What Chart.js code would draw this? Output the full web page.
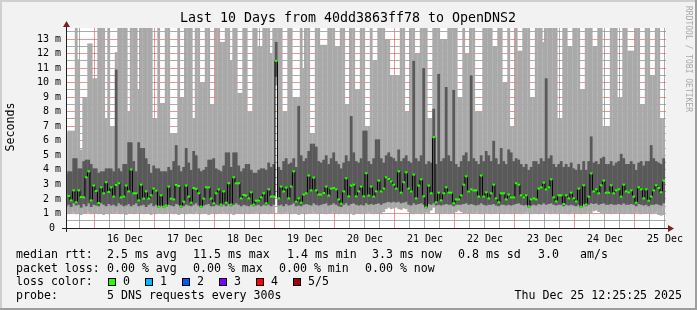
<!DOCTYPE html>
<html><head><meta charset="utf-8">
<script src="https://cdn.jsdelivr.net/npm/chart.js@4.4.1/dist/chart.umd.min.js"></script>
<style>html,body{margin:0;padding:0;background:#f2f2f2;}canvas{display:block;}</style>
</head><body>
<canvas id="c" width="697" height="310"></canvas>
<script>
// hourly steps, hour 12 of Dec 15 onwards (hours since Dec 15 00:00)
const firstHour = 12;
const viewStart = 12.42, viewEnd = 252.42;
const medianRtt = [2.25,2.2,1.90,2.59,1.77,2.59,2.13,2.11,3.49,3.90,
1.90,2.92,2.55,1.72,2.80,2.39,3.15,2.48,2.80,2.16,
2.96,3.08,2.11,2.16,2.92,2.52,4.02,2.39,2.39,1.90,
2.98,2.02,2.52,2.02,2.25,2.71,2.57,1.47,2.25,1.47,
1.54,2.85,2.02,1.97,2.96,2.89,1.49,1.81,2.92,2.16,
1.74,2.75,2.69,2.39,1.47,2.02,2.80,2.80,2.02,1.70,
2.39,2.66,1.61,2.52,1.74,3.08,1.61,3.49,3.08,3.08,
2.04,2.27,2.23,2.04,2.46,1.61,1.88,1.88,2.11,2.39,
1.7,2.66,2.16,2.16,11.5,2.04,2.85,2.52,2.78,2.04,
2.85,3.90,1.81,2.04,1.74,2.30,2.39,3.61,2.59,3.47,
2.59,2.30,2.30,2.41,2.85,2.23,2.71,2.75,2.66,1.97,
1.67,2.52,3.42,2.18,2.92,2.98,2.18,2.52,2.85,2.18,
3.77,2.23,2.85,2.16,2.52,3.26,2.52,2.71,3.49,3.37,
3.21,2.98,2.71,3.90,2.43,3.15,3.83,2.71,2.52,3.67,
2.04,2.92,3.35,2.18,1.42,2.92,2.39,6.25,1.77,2.43,
1.90,2.39,2.80,2.43,2.43,1.70,1.97,1.97,2.25,2.98,
3.56,2.52,2.66,2.59,2.59,2.16,3.61,2.16,2.46,2.04,
2.39,2.98,2.04,1.77,2.39,2.39,1.97,2.30,2.11,2.11,
3.08,2.98,2.25,2.11,2.25,1.49,1.97,2.04,1.97,2.71,
2.80,3.12,2.66,2.80,3.35,2.11,1.83,2.25,2.25,1.65,
2.25,2.04,2.43,2.04,1.83,2.71,1.47,2.94,1.61,2.16,
3.76,2.52,2.66,2.39,2.94,3.26,2.43,2.43,2.94,2.39,
2.59,2.66,2.16,2.98,2.52,2.46,2.59,2.16,1.74,2.80,
2.66,2.04,2.66,1.88,2.16,2.59,2.94,2.75,2.46,3.26];
const highRtt = [3.7,3.9,3.9,4.8,4.8,4.1,4.1,4.6,4.7,4.7,
4.4,4.1,4.1,3.8,3.9,3.9,4.1,4.1,4.1,3.9,
10.9,4.1,3.9,4.4,4.4,5.9,5.9,4.6,3.9,5.9,
5.5,5.5,4.8,4.4,3.8,4.3,4.1,4.1,3.9,3.9,
3.9,4.2,4.0,4.6,5.7,4.3,3.9,4.2,5.5,4.5,
4.0,5.3,5.0,4.1,3.9,4.0,4.2,4.7,4.7,4.8,
4.1,4.0,3.9,4.3,5.2,5.2,4.2,5.2,5.2,4.3,
3.9,4.1,4.4,4.4,4.0,3.8,3.8,4.0,4.1,4.1,
4.0,4.5,4.2,4.4,12.8,4.2,4.0,4.6,4.8,4.4,
4.5,4.8,4.2,8.4,5.0,4.6,4.8,5.3,5.8,5.8,
5.6,4.6,4.5,4.7,5.0,4.4,4.8,5.2,4.6,4.4,
4.1,4.5,5.0,4.6,7.7,5.2,4.6,4.5,4.8,6.7,
6.7,4.6,4.4,4.8,6.1,6.1,4.8,4.5,5.0,5.2,
4.9,4.8,4.6,5.4,4.6,4.8,5.0,4.6,4.5,11.5,
4.8,4.6,5.0,11.0,4.4,4.6,4.5,8.2,4.4,10.6,
4.6,4.8,9.7,5.0,4.6,9.5,4.4,4.2,4.6,5.0,
5.2,4.6,10.5,4.8,4.6,4.4,5.0,4.6,5.3,5.0,
4.6,6.0,4.8,4.4,5.5,4.6,4.4,5.4,5.2,4.6,
4.8,4.7,4.4,4.2,4.4,4.0,4.2,4.6,4.6,4.4,
4.8,4.6,10.3,4.8,5.0,4.4,4.2,4.4,4.6,4.2,
4.4,4.2,4.5,4.1,4.0,4.4,4.0,4.6,4.0,4.6,
6.3,4.5,4.6,4.4,4.8,4.9,4.4,4.4,4.6,4.3,
4.5,4.6,5.1,4.8,4.4,4.4,4.6,4.4,4.0,4.5,
4.6,4.3,4.6,4.6,5.7,4.8,4.6,4.5,4.4,4.8];
const lowRtt = [1.5,1.6,1.45,1.7,1.55,1.6,1.4,1.65,1.5,1.7,1.45,1.6,1.55,1.5,1.7,1.6,1.5,1.65,1.55,1.6,
1.5,1.7,1.6,1.5,1.55,1.65,1.5,1.6,1.7,1.5,1.55,1.6,1.45,1.6,1.7,1.5,1.6,1.4,1.55,1.4,
1.45,1.6,1.55,1.5,1.65,1.6,1.4,1.5,1.6,1.55,1.5,1.6,1.7,1.55,1.4,1.55,1.6,1.65,1.5,1.5,
1.6,1.55,1.5,1.6,1.5,1.65,1.5,1.6,1.7,1.6,1.5,1.6,1.55,1.5,1.6,1.5,1.55,1.6,1.5,1.6,
1.55,1.6,1.5,1.6,10.4,1.55,1.6,1.5,1.65,1.55,1.6,1.7,1.5,1.55,1.5,1.6,1.65,1.6,1.55,1.7,
1.6,1.55,1.6,1.65,1.7,1.55,1.6,1.7,1.6,1.5,1.45,1.6,1.7,1.55,1.65,1.7,1.6,1.55,1.6,1.55,
1.7,1.6,1.65,1.6,1.65,1.7,1.6,1.7,1.75,1.8,1.75,1.8,1.75,1.8,1.7,1.75,1.8,1.6,1.55,1.7,
1.6,1.65,1.7,1.6,1.35,1.65,1.6,1.7,1.55,1.6,1.55,1.6,1.65,1.6,1.6,1.5,1.6,1.6,1.6,1.65,
1.7,1.6,1.65,1.6,1.55,1.6,1.7,1.6,1.55,1.6,1.6,1.65,1.55,1.5,1.6,1.6,1.55,1.6,1.55,1.6,
1.65,1.7,1.6,1.55,1.6,1.4,1.55,1.6,1.55,1.65,1.6,1.7,1.6,1.65,1.7,1.6,1.55,1.6,1.6,1.5,
1.6,1.55,1.6,1.55,1.5,1.6,1.4,1.65,1.5,1.6,1.7,1.65,1.7,1.6,1.65,1.7,1.6,1.6,1.65,1.6,
1.6,1.65,1.6,1.7,1.6,1.6,1.65,1.6,1.5,1.65,1.6,1.55,1.6,1.5,1.6,1.6,1.65,1.6,1.55,1.7];
const minRtt = [1.0,0.95,1.0,1.05,0.95,1.0,0.9,1.0,1.0,1.05,0.95,1.0,1.0,0.95,1.0,0.9,1.0,0.95,1.0,1.0,
1.05,1.0,0.95,1.0,0.9,1.0,1.0,0.95,1.0,1.05,1.0,0.95,1.0,1.0,0.9,1.0,0.95,1.0,1.0,0.95,
1.0,1.05,1.0,0.95,1.0,0.9,1.0,1.0,0.95,1.0,1.0,0.95,1.05,1.0,0.95,1.0,1.0,0.9,1.0,1.0,
0.95,1.0,1.0,1.05,1.0,0.95,1.0,0.9,1.0,1.0,0.95,1.0,1.0,0.95,1.0,1.0,1.05,1.0,0.95,1.0,
1.0,0.95,1.0,1.0,9.8,1.0,0.95,1.0,1.05,1.0,0.95,1.0,1.0,0.9,1.0,1.0,0.95,1.0,1.0,1.05,
1.0,0.95,1.0,1.0,0.95,1.0,1.0,1.05,1.0,0.95,1.0,1.0,0.95,1.0,1.0,0.9,1.0,1.0,0.95,1.0,
1.0,1.05,1.0,0.95,1.0,1.0,0.95,1.1,1.3,1.4,1.3,1.35,1.4,1.3,1.25,1.35,1.3,1.1,1.0,0.95,
1.0,1.0,0.95,1.0,1.05,1.0,1.2,1.4,1.0,1.0,0.95,1.0,1.0,0.95,1.0,1.0,1.1,1.2,1.1,1.0,
1.0,0.95,1.0,1.0,1.05,1.0,0.95,1.0,1.0,1.0,0.95,1.0,1.0,1.05,1.0,0.95,1.0,1.0,0.95,1.0,
1.0,1.0,0.95,1.0,1.05,1.0,0.95,1.0,1.0,0.95,1.0,1.0,1.05,1.0,0.95,1.0,1.0,0.95,1.0,1.0,
1.0,0.95,1.0,1.05,1.0,1.0,0.95,1.0,1.0,1.05,1.0,1.15,1.2,1.1,1.0,0.95,1.0,1.0,0.95,1.0,
1.0,1.05,1.0,0.95,1.0,1.0,0.95,1.0,1.05,1.0,0.95,1.0,1.0,1.0,0.95,1.0,1.05,0.9,0.85,0.9];
const maxRtt = [6.5,6.7,6.7,6.7,14,11.6,5.4,9.0,9.0,12.7,
12.7,10.3,10.3,14,14,14,7.5,14,7.0,7.0,
12.1,14,14,14,14,8.0,14,14,14,9.5,
14,14,14,14,14,7.5,7.5,14,8.6,8.6,
14,14,6.5,6.5,6.5,14,9.0,9.0,14,14,
14,7.5,14,14,10,10,14,14,8.5,8.5,
14,14,12.8,12.8,14,14,11.5,14,14,9.3,
9.3,14,14,8.0,8.0,14,14,12.5,12.5,14,
14,14,12,14,14,14,14,8.0,8.0,14,
14,9.0,9.0,9.0,14,11,14,14,6.5,6.5,
14,14,12.6,12.6,12.6,14,14,14,12.5,12.5,
14,14,8.5,8.5,14,14,9.5,9.5,14,14,
7.0,7.0,14,11.5,11.5,14,14,14,13,13,
10.5,10.5,10.5,10.5,14,14,8.0,8.0,14,14,
12,12,14,14,14,7.5,7.5,14,14,14,
13,13,13,14,14,14,14,9.0,9.0,14,
12,12,14,14,8,8,8,14,14,14,
14,12.5,12.5,14,14,10,10,14,7,7,
14,12.2,12.2,14,14,14,9,9,14,14,
14,12.8,14,14,14,14,14,7.5,7.5,14,
14,12.5,12.5,14,14,14,9.5,9.5,14,14,
14,12.5,12.5,14,14,7,7,7,14,14,
14,9,9,14,14,12.2,12.2,12.2,14,14,
8.5,8.5,14,14,10.5,10.5,14,14,7.5,7.5];
const dayBoundaries = [24,48,72,96,120,144,168,192,216,240];
const dayLabelHours = [36,60,84,108,132,156,180,204,228,252];
const dayLabels = ['16 Dec','17 Dec','18 Dec','19 Dec','20 Dec','21 Dec','22 Dec','23 Dec','24 Dec','25 Dec'];
const yTickValues = [0,1,2,3,4,5,6,7,8,9,10,11,12,13];
const yTickLabels = ['0\u00a0','1 m','2 m','3 m','4 m','5 m','6 m','7 m','8 m','9 m','10 m','11 m','12 m','13 m'];
const yMax = 13.76;
const legendRtt = [['median rtt:',16],['2.5 ms avg',107],['11.5 ms max',193],['1.4 ms min',287],['3.3 ms now',372],['0.8 ms sd',458],['3.0',538],['am/s',580]];
const legendLoss = [['packet loss:',16],['0.00 % avg',107],['0.00 % max',193],['0.00 % min',279],['0.00 % now',365]];
const lossColors = ['#26ff00','#00b8ff','#0059ff','#7e00ff','#ff0000','#a10000'];
const lossLabels = ['0','1','2','3','4','5/5'];
const lossBoxX = [108,145,182,219,256,293];
const probeText = '5 DNS requests every 300s';
const dateText = 'Thu Dec 25 12:25:25 2025';
const titleText = 'Last 10 Days from 40dd3863ff78 to OpenDNS2';

const xs = medianRtt.map((_, i) => firstHour + i + 0.5);
const smokeOuter = xs.map((x, i) => ({x, y: [minRtt[i], maxRtt[i]]}));
const smokeInner = xs.map((x, i) => ({x, y: [lowRtt[i], highRtt[i]]}));
const medLine = xs.map((x, i) => ({x, y: medianRtt[i]}));
const medMark = xs.map((x, i) => ({x, y: [medianRtt[i] - 0.07, medianRtt[i] + 0.07]}));

const MONO = '"DejaVu Sans Mono", monospace';
const barCommon = {grouped: false, barPercentage: 1.12, categoryPercentage: 1, borderWidth: 0, borderSkipped: false};

const frame = {
  id: 'frame',
  beforeDraw(chart) {
    const {ctx, chartArea: a} = chart;
    ctx.save();
    ctx.fillStyle = '#f2f2f2'; ctx.fillRect(0, 0, 697, 310);
    ctx.fillStyle = '#cfcfcf'; ctx.fillRect(0, 0, 697, 2); ctx.fillRect(0, 0, 2, 310);
    ctx.fillStyle = '#9e9e9e'; ctx.fillRect(0, 308, 697, 2); ctx.fillRect(695, 0, 2, 310);
    ctx.fillStyle = '#ffffff'; ctx.fillRect(a.left, a.top, a.right - a.left, a.bottom - a.top);
    ctx.restore();
  },
  afterDraw(chart) {
    const {ctx, chartArea: a} = chart;
    ctx.save();
    ctx.fillStyle = '#1f1f1f';
    ctx.fillRect(a.left, a.top - 2, 1, a.bottom - a.top + 6);
    ctx.fillRect(a.left - 4, a.bottom, a.right - a.left + 8, 1);
    ctx.fillStyle = '#801f1f';
    ctx.beginPath(); ctx.moveTo(a.left - 3, a.top - 1); ctx.lineTo(a.left + 4, a.top - 1); ctx.lineTo(a.left + 0.5, a.top - 7); ctx.closePath(); ctx.fill();
    ctx.beginPath(); ctx.moveTo(a.right + 2, a.bottom - 3); ctx.lineTo(a.right + 2, a.bottom + 4); ctx.lineTo(a.right + 8, a.bottom + 0.5); ctx.closePath(); ctx.fill();
    ctx.fillStyle = '#000';
    ctx.textBaseline = 'middle';
    ctx.font = '13.3px ' + MONO; ctx.textAlign = 'center';
    ctx.fillText(titleText, 348, 19);
    ctx.save(); ctx.translate(11, 127); ctx.rotate(-Math.PI / 2);
    ctx.font = '11.6px ' + MONO; ctx.fillText('Seconds', 0, 0); ctx.restore();
    ctx.save(); ctx.translate(688, 59); ctx.rotate(Math.PI / 2);
    ctx.fillStyle = '#a8a8a8'; ctx.font = '8px ' + MONO; ctx.fillText('RRDTOOL / TOBI OETIKER', 0, 0); ctx.restore();
    ctx.textAlign = 'left';
    ctx.font = '11.6px ' + MONO;
    legendRtt.forEach(([t, x]) => ctx.fillText(t, x, 255));
    legendLoss.forEach(([t, x]) => ctx.fillText(t, x, 268.5));
    ctx.fillText('loss color:', 16, 282);
    lossColors.forEach((c, i) => {
      ctx.fillStyle = c; ctx.fillRect(lossBoxX[i], 278, 8, 8);
      ctx.strokeStyle = '#000'; ctx.lineWidth = 1; ctx.strokeRect(lossBoxX[i] + 0.5, 278.5, 7, 7);
      ctx.fillStyle = '#000'; ctx.fillText(lossLabels[i], lossBoxX[i] + 15, 282);
    });
    ctx.fillText('probe:', 16, 296);
    ctx.fillText(probeText, 107, 296);
    ctx.textAlign = 'right';
    ctx.fillText(dateText, 682, 296);
    ctx.restore();
  }
};

const gridOnly = (ticks, color) => ({
  type: 'linear', min: viewStart, max: viewEnd, offset: false, z: 1,
  afterBuildTicks: s => { s.ticks = ticks.map(v => ({value: v})); },
  afterFit: s => { s.height = 0; },
  ticks: {display: false},
  border: {display: false},
  grid: {color, lineWidth: 1, borderDash: [1, 1], drawTicks: false, offset: false}
});
const minorX = [];
for (let h = 18; h < viewEnd; h += 6) if (h % 24 !== 0) minorX.push(h);
const minorY = [];
for (let v = 0.5; v < yMax; v += 1) minorY.push(v);

new Chart(document.getElementById('c'), {
  type: 'bar',
  data: {
    datasets: [
      {label: 'outer', data: smokeOuter, backgroundColor: '#a9a9a9', order: 4, ...barCommon},
      {label: 'inner', data: smokeInner, backgroundColor: '#595959', order: 3, ...barCommon},
      {label: 'median', type: 'line', data: medLine, borderColor: '#000', borderWidth: 1, pointRadius: 0, stepped: 'middle', order: 2},
      {label: 'loss0', data: medMark, backgroundColor: '#26ff00', order: 1, ...barCommon}
    ]
  },
  plugins: [frame],
  options: {
    responsive: false, animation: false, devicePixelRatio: 1,
    layout: {padding: {top: 28, right: 31, left: 0, bottom: 0}},
    plugins: {legend: {display: false}, tooltip: {enabled: false}, title: {display: false}},
    scales: {
      x: {
        type: 'linear', min: viewStart, max: viewEnd, offset: false, z: 1,
        afterBuildTicks: s => { s.ticks = dayLabelHours.map(v => ({value: v})); },
        afterFit: s => { s.height = 82; },
        grid: {display: false, offset: false},
        border: {display: false},
        ticks: {autoSkip: false, maxRotation: 0, padding: -3, color: '#000', font: {family: 'DejaVu Sans Mono', size: 9.97},
          callback: v => dayLabels[dayLabelHours.indexOf(v)]}
      },
      xMinor: gridOnly(minorX, 'rgba(143,143,143,0.75)'),
      xMajor: gridOnly(dayBoundaries, 'rgba(222,79,79,0.6)'),
      y: {
        type: 'linear', min: 0, max: yMax, position: 'left', z: 1,
        afterBuildTicks: s => { s.ticks = yTickValues.map(v => ({value: v})); },
        afterFit: s => { s.width = 66; },
        grid: {color: 'rgba(222,79,79,0.6)', borderDash: [1, 1], drawTicks: false},
        border: {display: false},
        ticks: {autoSkip: false, padding: 5, color: '#000', font: {family: 'DejaVu Sans Mono', size: 9.97},
          callback: v => yTickLabels[yTickValues.indexOf(v)]}
      },
      yMinor: {
        type: 'linear', min: 0, max: yMax, position: 'left', z: 1,
        afterBuildTicks: s => { s.ticks = minorY.map(v => ({value: v})); },
        afterFit: s => { s.width = 0; },
        ticks: {display: false},
        border: {display: false},
        grid: {color: 'rgba(143,143,143,0.75)', borderDash: [1, 1], drawTicks: false}
      }
    }
  }
});
</script>
</body></html>
